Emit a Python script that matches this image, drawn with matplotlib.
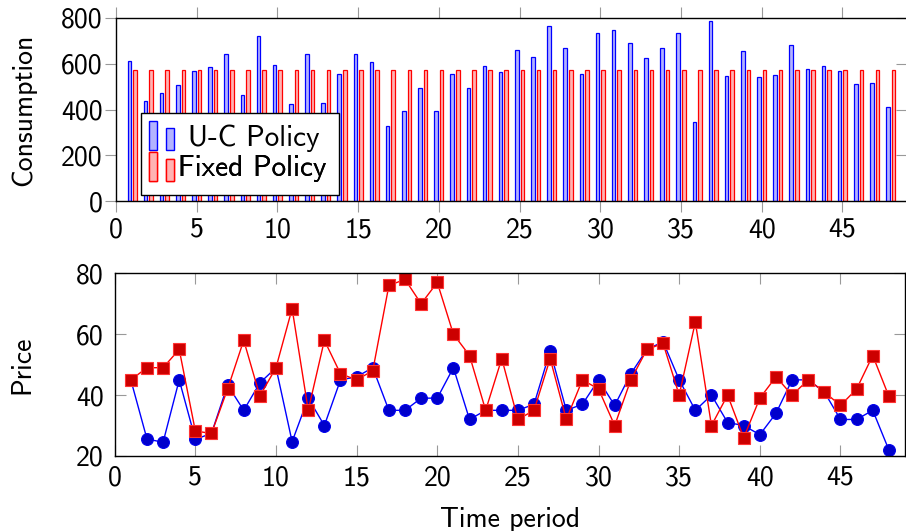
import matplotlib
matplotlib.use("Agg")
import matplotlib.pyplot as plt
import numpy as np
from matplotlib.legend_handler import HandlerBase
from matplotlib.patches import Rectangle, Patch

plt.rcParams["font.family"] = ["cmss10", "DejaVu Sans"]
plt.rcParams["axes.unicode_minus"] = False
plt.rcParams["mathtext.fontset"] = "cm"

periods = list(range(1, 49))

uc_consumption = [611, 438, 470, 505, 567, 586, 643, 464, 722, 595, 423, 643,
                  427, 557, 643, 608, 328, 394, 493, 394, 556, 496, 591, 566,
                  661, 630, 767, 667, 556, 735, 748, 690, 624, 671, 734, 347,
                  785, 546, 656, 543, 553, 683, 576, 589, 569, 511, 515, 410]
fixed_consumption = [573, 573, 573, 573, 573, 573, 573, 573, 573, 573, 573, 573,
                     573, 573, 573, 573, 573, 573, 573, 573, 573, 573, 573, 573,
                     573, 573, 573, 573, 573, 573, 573, 573, 573, 573, 573, 573,
                     573, 573, 573, 573, 573, 573, 573, 573, 573, 573, 573, 573]

uc_price = [45, 25.6, 24.5, 45, 25.5, 27.4, 43.3, 35, 44, 49, 24.7, 39,
            30, 45, 46, 49, 35, 35, 39, 39, 49, 32, 35, 35,
            35, 37, 54.5, 35, 37, 45, 36.6, 47, 55, 57.5, 45, 35,
            40, 31, 30, 27, 34, 45, 45, 41, 32, 32, 35, 22]
fixed_price = [45, 49, 49, 55, 28.2, 27.4, 42, 58, 39.7, 49, 68.4, 35,
               58, 47, 45, 48, 76, 78, 70, 77, 60, 53, 35, 52,
               32, 35, 52, 32, 45, 42, 30, 45, 55, 57, 40, 64,
               30, 40, 26, 39, 46, 40, 45, 41, 36.6, 42, 53, 39.6]

series_labels = ["U-C Policy", "Fixed Policy"]
x_ticks = [0, 5, 10, 15, 20, 25, 30, 35, 40, 45]
cons_ticks = [0, 200, 400, 600, 800]
price_ticks = [20, 40, 60, 80]

BLUE_EDGE, BLUE_FILL = "#0000ff", "#b3b3ff"
RED_EDGE, RED_FILL = "#ff0000", "#ffb3b3"
TICK_GRAY = "#999999"
FS = 20
LEG_FS = 21


class HandlerTwinBars(HandlerBase):
    """Legend key made of two small bars, as in a grouped bar plot."""
    def create_artists(self, legend, orig_handle, xdescent, ydescent,
                       width, height, fontsize, trans):
        fc = orig_handle.get_facecolor()
        ec = orig_handle.get_edgecolor()
        bw = width * 0.33
        y0 = -ydescent - 0.25 * height
        r1 = Rectangle((-xdescent, y0), bw, height * 1.45,
                       facecolor=fc, edgecolor=ec, lw=1.0, transform=trans)
        r2 = Rectangle((-xdescent + width - bw, y0), bw, height * 1.1,
                       facecolor=fc, edgecolor=ec, lw=1.0, transform=trans)
        return [r1, r2]


fig = plt.figure(figsize=(9.06, 5.31), dpi=100)

# ---- consumption bars ----
ax1 = fig.add_axes([116 / 906, 1 - 201 / 531, 791 / 906, 183 / 531])
x = np.array(periods, dtype=float)
off = 0.175
bw = 0.22
ax1.bar(x - off, uc_consumption, width=bw, facecolor=BLUE_FILL,
        edgecolor=BLUE_EDGE, linewidth=0.9)
ax1.bar(x + off, fixed_consumption, width=bw, facecolor=RED_FILL,
        edgecolor=RED_EDGE, linewidth=0.9)
ax1.set_xlim(0, 49)
ax1.set_ylim(0, 800)
ax1.set_xticks(x_ticks)
ax1.set_yticks(cons_ticks)
ax1.tick_params(axis="both", which="both", direction="out", length=8,
                width=0.8, color=TICK_GRAY, labelsize=FS, top=True, right=False)
ax1.tick_params(axis="y", pad=1.5)
ax1.tick_params(axis="x", pad=4)
ax1.set_ylabel("Consumption", fontsize=FS, labelpad=18)
sec = ax1.secondary_yaxis("right")
sec.set_yticks(cons_ticks)
sec.tick_params(direction="in", length=8, width=0.8, color=TICK_GRAY,
                labelright=False)
for sp in ax1.spines.values():
    sp.set_linewidth(1.0)

# legend panel (white box with black border); entries are centred in it
box_x0, box_y0 = 0.031, 0.033
box_x1, box_y1 = 0.282, 0.481
ax1.add_patch(Rectangle((box_x0, box_y0), box_x1 - box_x0, box_y1 - box_y0,
                        transform=ax1.transAxes, facecolor="white",
                        edgecolor="black", linewidth=1.0, zorder=4.5))
handles = [Patch(facecolor=BLUE_FILL, edgecolor=BLUE_EDGE),
           Patch(facecolor=RED_FILL, edgecolor=RED_EDGE)]
row_y = [0.345, 0.178]
text_pad = [0.48, 0.13]
for h, lab, ry, tp in zip(handles, series_labels, row_y, text_pad):
    lg = ax1.legend([h], [lab], loc="center left",
                    bbox_to_anchor=(0.0417, ry), fontsize=LEG_FS,
                    handler_map={Patch: HandlerTwinBars()},
                    handlelength=0.86, handleheight=0.68, handletextpad=tp,
                    borderpad=0, borderaxespad=0, frameon=False)
    lg.set_zorder(5)
    ax1.add_artist(lg)

# ---- price lines ----
ax2 = fig.add_axes([114.7 / 906, 1 - 456 / 531, 790.3 / 906, 182.7 / 531])
ax2.plot(periods, uc_price, color=BLUE_EDGE, lw=1.0, marker="o",
         markersize=8.5, markerfacecolor="#0000cc", markeredgecolor="#0000ee",
         markeredgewidth=0.8)
ax2.plot(periods, fixed_price, color=RED_EDGE, lw=1.0, marker="s",
         markersize=8, markerfacecolor="#cc0000", markeredgecolor="#ff3333",
         markeredgewidth=0.8)
ax2.set_xlim(0, 49)
ax2.set_ylim(20, 80)
ax2.set_xticks(x_ticks)
ax2.set_yticks(price_ticks)
ax2.tick_params(axis="both", which="both", direction="in", length=8,
                width=0.8, color=TICK_GRAY, labelsize=FS, top=True, right=True)
ax2.tick_params(axis="y", pad=8)
ax2.tick_params(axis="x", pad=7)
ax2.set_ylabel("Price", fontsize=FS, labelpad=30)
ax2.set_xlabel("Time period", fontsize=FS, labelpad=12)
for sp in ax2.spines.values():
    sp.set_linewidth(1.0)

fig.savefig("out.png", dpi=100)
